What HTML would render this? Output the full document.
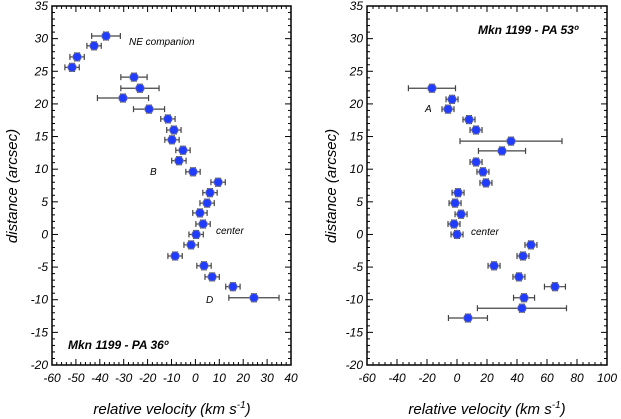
<!DOCTYPE html>
<html><head><meta charset="utf-8">
<style>
html,body{margin:0;padding:0;background:#fff;}
svg{display:block;font-family:"Liberation Sans",Arial,sans-serif;}
.tk{font-size:12px;font-style:italic;fill:#000;}
.tt{font-size:15px;font-style:italic;fill:#000;}
.an{font-size:10px;font-style:italic;fill:#000;}
.lb{font-size:12px;font-style:italic;font-weight:bold;fill:#000;}
</style></head>
<body>
<svg id="chart" width="621" height="419" viewBox="0 0 621 419"></svg>
<script>
// Left panel data (PA 36)
const leftVel=[-37.4,-42.4,-49.5,-51.6,-25.7,-23.2,-30.3,-19.4,-11.5,-9,-9.8,-5.2,-6.9,-1,9.5,6.1,4.9,1.9,3.2,0.3,-1.8,-8.5,3.6,7,15.7,24.5];
const leftDist=[30.4,28.9,27.2,25.6,24.1,22.4,20.9,19.2,17.7,16,14.5,12.9,11.3,9.6,8,6.4,4.8,3.3,1.6,0,-1.6,-3.3,-4.8,-6.5,-8,-9.7];
const leftErr=[6,3,3,3,5.5,8,10.7,6.5,3,3,3,3,3,3,3,3,3,3,3,3,3,3,3,3,3,10.5];
// Right panel data (PA 53)
const rightVel=[-16.7,-3.3,-6,8,12.7,36,30,12.7,17.3,19.3,0.7,-1.3,2.7,-2,0,49.3,44,24.7,41.3,65.3,44.7,43.3,7.3];
const rightDist=[22.4,20.7,19.2,17.6,16,14.3,12.8,11.1,9.6,7.9,6.4,4.8,3.1,1.6,0,-1.6,-3.3,-4.8,-6.5,-8,-9.7,-11.3,-12.8];
const rightErr=[15.7,4,4,4,4,34,15.7,4,4,4,4,4,4,4,4,4,4,4,4,7,7,29.7,13];
const yTicks=[35,30,25,20,15,10,5,0,-5,-10,-15,-20];
const leftXTicks=[-60,-50,-40,-30,-20,-10,0,10,20,30,40];
const rightXTicks=[-60,-40,-20,0,20,40,60,80,100];

const NS="http://www.w3.org/2000/svg";
const svg=document.getElementById('chart');
function mk(t,a,p){const e=document.createElementNS(NS,t);for(const k in a)e.setAttribute(k,a[k]);(p||svg).appendChild(e);return e;}
const Y0=6,Y1=365;
function ys(v){return Y0+(35-v)*(Y1-Y0)/55;}

function panel(name,x0,x1,xmin,xmax,xt,minorStep,vel,dist,err){
  const g=mk('g',{});
  
  
  const xs=v=>x0+(v-xmin)*(x1-x0)/(xmax-xmin);
  // minor ticks
  for(let v=xmin;v<=xmax+1e-6;v+=minorStep){const x=xs(v);const maj=xt.includes(Math.round(v));const l=maj?6:3;
    mk('line',{x1:x,y1:Y1,x2:x,y2:Y1-l,stroke:'#000','stroke-width':1},g);
    mk('line',{x1:x,y1:Y0,x2:x,y2:Y0+l,stroke:'#000','stroke-width':1},g);}
  for(let v=-20;v<=35;v+=1){const y=ys(v);const maj=v%5===0;const l=maj?6:3;
    mk('line',{x1:x0,y1:y,x2:x0+l,y2:y,stroke:'#000','stroke-width':1},g);
    mk('line',{x1:x1,y1:y,x2:x1-l,y2:y,stroke:'#000','stroke-width':1},g);}
  mk('rect',{x:x0,y:Y0,width:x1-x0,height:Y1-Y0,fill:'none',stroke:'#000','stroke-width':1.5},g);
  xt.forEach(v=>{const t=mk('text',{x:xs(v),y:Y1+17,'text-anchor':'middle',class:'tk'},g);t.textContent=v;
    });
  yTicks.forEach(v=>{const t=mk('text',{x:x0-4,y:ys(v)+4,'text-anchor':'end',class:'tk'},g);t.textContent=v;
    });
  for(let i=0;i<vel.length;i++){
    const cx=xs(vel[i]),cy=ys(dist[i]);
    const pg=mk('g',{},g);
    
    
    const xa=xs(vel[i]-err[i]),xb=xs(vel[i]+err[i]);
    const ya=ys(dist[i]+0.6),yb=ys(dist[i]-0.6);
    mk('line',{x1:xa,y1:cy,x2:xb,y2:cy,stroke:'#444','stroke-width':1.2},pg);
    mk('line',{x1:xa,y1:cy-3,x2:xa,y2:cy+3,stroke:'#444','stroke-width':1.2},pg);
    mk('line',{x1:xb,y1:cy-3,x2:xb,y2:cy+3,stroke:'#444','stroke-width':1.2},pg);
    mk('line',{x1:cx,y1:ya,x2:cx,y2:yb,stroke:'#222','stroke-width':1.2},pg);
    mk('line',{x1:cx-3,y1:ya,x2:cx+3,y2:ya,stroke:'#222','stroke-width':1.2},pg);
    mk('line',{x1:cx-3,y1:yb,x2:cx+3,y2:yb,stroke:'#222','stroke-width':1.2},pg);
    mk('circle',{cx:cx,cy:cy,r:4.3,fill:'#1f3cff',stroke:'#7a7a9a','stroke-width':0.8},pg);
  }
  return xs;
}
panel('left-panel',52,291,-60,40,leftXTicks,2,leftVel,leftDist,leftErr);
panel('right-panel',367,607,-60,100,rightXTicks,4,rightVel,rightDist,rightErr);

function txt(x,y,s,cls,name,rot){const t=mk('text',{x:x,y:y,class:cls});t.textContent=s;
  if(rot)t.setAttribute('transform','rotate(-90 '+x+' '+y+')'),t.setAttribute('text-anchor','middle');
  return t;}
txt(129,45,'NE companion','an','annotation-ne-companion');
txt(150,175,'B','an','annotation-b');
txt(216,234,'center','an','annotation-center-left');
txt(206,303,'D','an','annotation-d');
txt(68,349,'Mkn 1199 - PA 36º','lb','panel-label-left');
txt(478,34,'Mkn 1199 - PA 53º','lb','panel-label-right');
txt(425,112,'A','an','annotation-a');
txt(471,235,'center','an','annotation-center-right');
txt(17,186,'distance (arcsec)','tt','y-axis-title-left',true);
txt(336,186,'distance (arcsec)','tt','y-axis-title-right',true);
const xt1=txt(172,414,'','tt','x-axis-title-left');xt1.setAttribute('text-anchor','middle');
xt1.innerHTML='relative velocity (km s<tspan dy="-6" font-size="10">-1</tspan><tspan dy="6">)</tspan>';
const xt2=txt(487,414,'','tt','x-axis-title-right');xt2.setAttribute('text-anchor','middle');
xt2.innerHTML='relative velocity (km s<tspan dy="-6" font-size="10">-1</tspan><tspan dy="6">)</tspan>';
</script>
</body></html>
